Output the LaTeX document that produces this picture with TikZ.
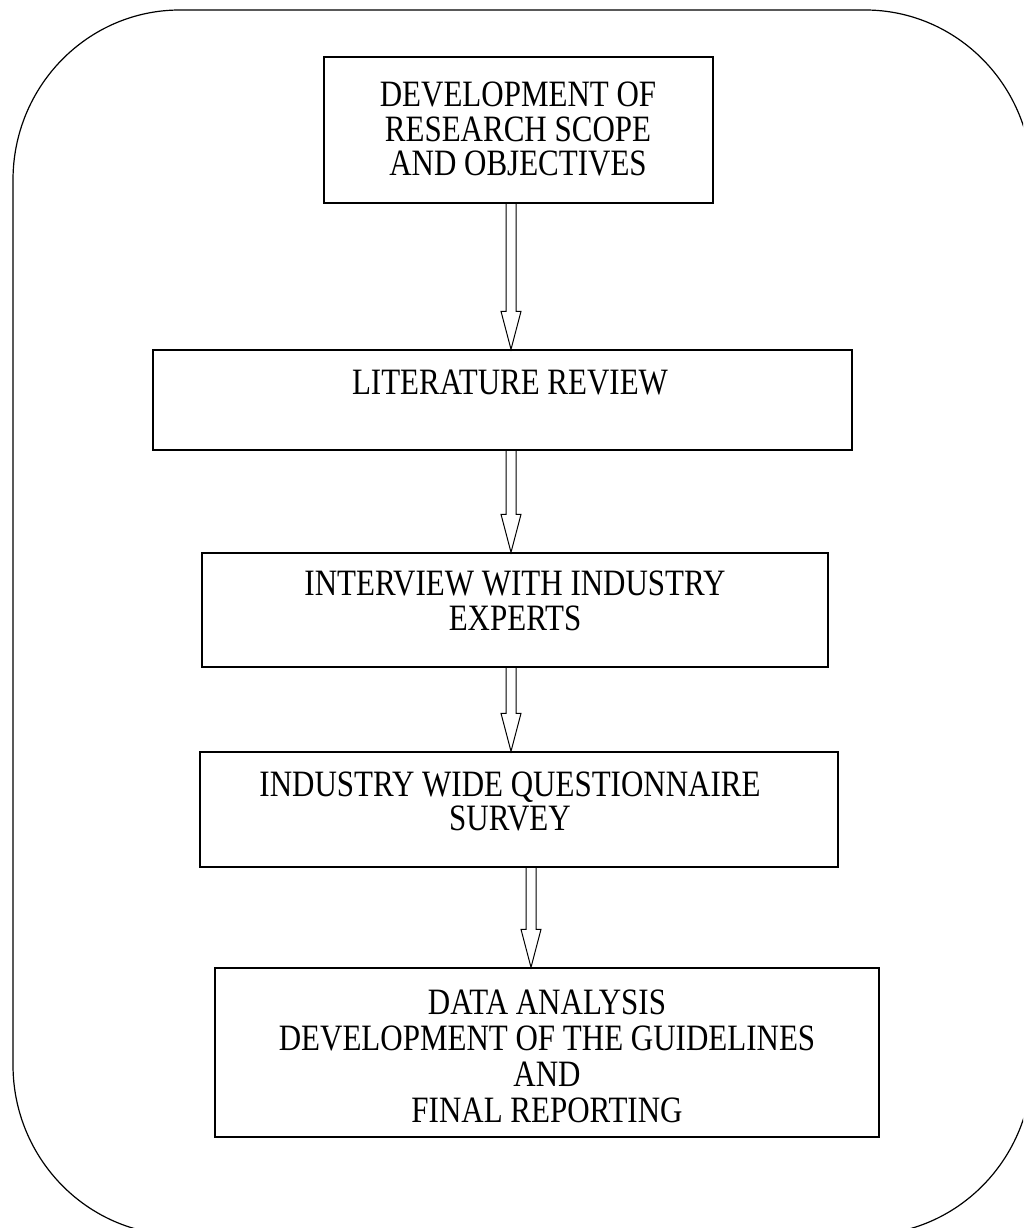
\documentclass[tikz,border=0pt]{standalone}
\usepackage{fontspec}
\setmainfont{Liberation Serif}
\usepackage{graphicx}
\usetikzlibrary{calc}
% #1 = visual line spacing (px); text is stretched vertically by 1.2
\newcommand\bxt[2]{\scalebox{1}[1.2]{\fontsize{31}{\numexpr #1*10/12\relax pt}\selectfont\begin{tabular}{@{}c@{}}#2\end{tabular}}}
\newcommand\blk[3]{\draw[arw] let \p1=(#1.south), \p2=(#2.north) in
  (#3-5,\y1) -- (#3-5,\y2+38) -- (#3-10,\y2+38) -- (#3,\y2) -- (#3+10,\y2+38) -- (#3+5,\y2+38) -- (#3+5,\y1);}
\tikzset{
  bx/.style={draw, line width=1.3pt, inner sep=0pt},
  tx/.style={inner sep=0pt},
  arw/.style={line width=1pt, line join=miter},
  outer/.style={line width=1.2pt}
}
\begin{document}
\begin{tikzpicture}[x=1pt,y=1pt]
\useasboundingbox (0,0) rectangle (1023,1228);
\clip (0,0) rectangle (1023,1228);
\fill[white] (0,0) rectangle (1023,1228);
% outer rounded frame
\draw[outer] (180,1218) -- (865,1218)
  arc[start angle=90,end angle=0,x radius=167,y radius=170] -- (1032,163)
  arc[start angle=0,end angle=-90,x radius=167,y radius=170] -- (180,-7)
  arc[start angle=270,end angle=180,x radius=167,y radius=170] -- (13,1048)
  arc[start angle=180,end angle=90,x radius=167,y radius=170] -- cycle;
% boxes
\node[bx, minimum width=389pt, minimum height=146pt] (b1) at (518.5,1098) {};
\node[bx, minimum width=699pt, minimum height=100pt] (b2) at (502.5,828) {};
\node[bx, minimum width=626pt, minimum height=114pt] (b3) at (515,618) {};
\node[bx, minimum width=638pt, minimum height=115pt] (b4) at (519,418.5) {};
\node[bx, minimum width=664pt, minimum height=169pt] (b5) at (547,175.5) {};
% texts
\node[tx] (t1) at (518,1094.2) {\bxt{34}{DEVELOPMENT OF\\RESEARCH SCOPE\\AND OBJECTIVES}};
\node[tx] (t2) at (510,841.1) {\bxt{34}{LITERATURE REVIEW}};
\node[tx] (t3) at (515,622.3) {\bxt{34}{INTERVIEW WITH INDUSTRY\\EXPERTS}};
\node[tx] (t4) at (510,421.8) {\bxt{34}{INDUSTRY WIDE QUESTIONNAIRE\\SURVEY}};
\node[tx] (t5) at (547,166.7) {\bxt{36}{DATA ANALYSIS\\DEVELOPMENT OF THE GUIDELINES\\AND\\FINAL REPORTING}};
% block arrows
\blk{b1}{b2}{511}
\blk{b2}{b3}{511}
\blk{b3}{b4}{511}
\blk{b4}{b5}{531}
\end{tikzpicture}
\end{document}
